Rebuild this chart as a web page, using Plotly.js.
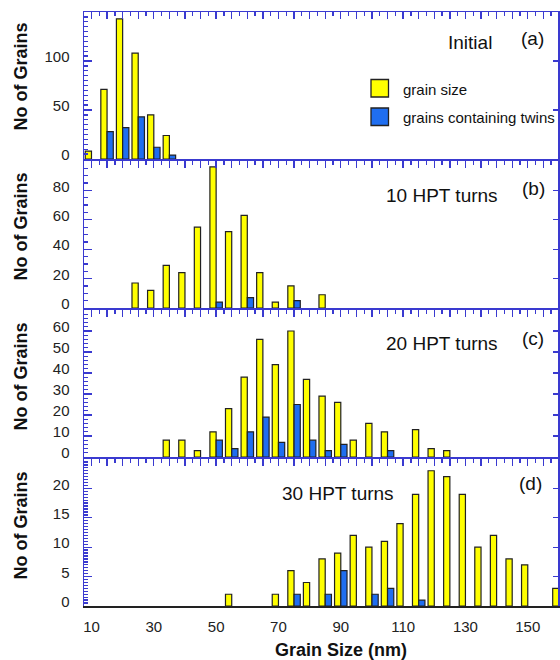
<!DOCTYPE html>
<html>
<head>
<meta charset="utf-8">
<script src="https://cdn.plot.ly/plotly-3.0.1.min.js"></script>
<style>
  html, body { margin: 0; padding: 0; background: #fff; }
  #chart { width: 560px; height: 660px; }
</style>
</head>
<body>
<div id="chart"></div>
<script>
// Grain-size histograms (5 nm bins) for the initial state and after 10/20/30 HPT turns.
const binsA = [10, 15, 20, 25, 30, 35];
const sizeA = [8, 71, 143, 108, 45, 24];
const twinA = [0, 28, 32, 43, 12, 4];

const binsB = [25, 30, 35, 40, 45, 50, 55, 60, 65, 70, 75, 80, 85];
const sizeB = [17, 12, 29, 24, 55, 96, 52, 63, 24, 4, 15, 0, 9];
const twinB = [0, 0, 0, 0, 0, 4, 0, 7, 0, 0, 5, 0, 0];

const binsC = [35, 40, 45, 50, 55, 60, 65, 70, 75, 80, 85, 90, 95, 100, 105, 110, 115, 120, 125];
const sizeC = [8, 8, 3, 12, 23, 38, 56, 44, 60, 37, 29, 26, 8, 16, 12, 0, 13, 4, 3];
const twinC = [0, 0, 0, 8, 4, 12, 19, 7, 25, 8, 3, 6, 0, 0, 3, 0, 0, 0, 0];

const binsD = [55, 60, 65, 70, 75, 80, 85, 90, 95, 100, 105, 110, 115, 120, 125, 130, 135, 140, 145, 150, 155, 160];
const sizeD = [2, 0, 0, 2, 6, 4, 8, 9, 12, 10, 11, 14, 19, 23, 22, 19, 10, 12, 8, 7, 0, 3];
const twinD = [0, 0, 0, 0, 2, 0, 2, 6, 0, 2, 3, 0, 1, 0, 0, 0, 0, 0, 0, 0, 0, 0];

const panelLabels = ['Initial', '10 HPT turns', '20 HPT turns', '30 HPT turns'];
const panelTags = ['(a)', '(b)', '(c)', '(d)'];
const seriesNames = ['grain size', 'grains containing twins'];
const xTickVals = [10, 30, 50, 70, 90, 110, 130, 150];
const yTickVals = [
  [0, 50, 100],
  [0, 20, 40, 60, 80],
  [0, 10, 20, 30, 40, 50, 60],
  [0, 5, 10, 15, 20]
];
const yTitle = 'No of Grains';
const xTitle = 'Grain Size (nm)';

// ---- styling ----
const FONT = 'Liberation Sans, Arial, Helvetica, sans-serif';
const AXIS_BLUE = '#3a3ad0';
const YELLOW = '#ffff00';
const BLUE = '#1f6ef0';
const EDGE = '#222222';

const W = 560, H = 660;
const M = { l: 84, r: 2, t: 12, b: 54 };
const PW = W - M.l - M.r, PH = H - M.t - M.b;
const fx = px => (px - M.l) / PW;          // pixel -> paper x
const fy = py => (H - M.b - py) / PH;      // pixel -> paper y

// vertical extent of each panel in pixels (top, bottom)
const panelPx = [[12, 159], [161, 308], [310, 457], [459, 606]];
const yRanges = [[0, 150], [0, 100], [0, 70], [0, 25]];
const yDtick = [50, 20, 10, 5];
const yMinor = [5, 5, 2, 0.5];
const xRange = [7.6, 159.7];

const bins = [binsA, binsB, binsC, binsD];
const sizes = [sizeA, sizeB, sizeC, sizeD];
const twins = [twinA, twinB, twinC, twinD];

// empty bins get no outline so nothing is drawn along the baseline
const edgeWidths = vals => vals.map(v => (v > 0 ? 1.2 : 0));

const traces = [];
const layout = {
  width: W, height: H,
  margin: M,
  paper_bgcolor: '#ffffff',
  plot_bgcolor: '#ffffff',
  showlegend: false,
  barmode: 'group',
  bargap: 0.2,
  bargroupgap: 0,
  font: { family: FONT, color: '#222' },
  annotations: [],
  shapes: []
};

for (let i = 0; i < 4; i++) {
  const n = i + 1;
  const xa = n === 1 ? 'x' : 'x' + n;
  const ya = n === 1 ? 'y' : 'y' + n;
  const yRight = 'y' + (n + 4);

  traces.push({
    type: 'bar', name: seriesNames[0], x: bins[i], y: sizes[i],
    xaxis: xa, yaxis: ya,
    marker: { color: YELLOW, line: { color: EDGE, width: edgeWidths(sizes[i]) } },
    hoverinfo: 'x+y'
  });
  traces.push({
    type: 'bar', name: seriesNames[1], x: bins[i], y: twins[i],
    xaxis: xa, yaxis: ya,
    marker: { color: BLUE, line: { color: EDGE, width: edgeWidths(twins[i]) } },
    hoverinfo: 'x+y'
  });

  const [top, bot] = panelPx[i];
  const dom = [fy(bot), fy(top)];

  // top axis carries the fine ticks; the bottom edge is just a line
  layout['xaxis' + (n === 1 ? '' : n)] = {
    domain: [0, 1], anchor: ya, range: xRange, side: 'top',
    showticklabels: false, ticks: 'inside', tick0: 10, dtick: 5,
    ticklen: 7, tickwidth: 1.3, tickcolor: AXIS_BLUE,
    minor: { ticks: 'inside', dtick: 2.5, ticklen: 4, tickwidth: 1.3, tickcolor: AXIS_BLUE, showgrid: false },
    showline: true, linecolor: AXIS_BLUE, linewidth: 1.5, mirror: n !== 4,
    showgrid: false, zeroline: false, fixedrange: true
  };

  layout['yaxis' + (n === 1 ? '' : n)] = {
    domain: dom, anchor: xa, range: yRanges[i],
    tickmode: 'array', tickvals: yTickVals[i],
    ticks: 'inside', ticklen: 8, tickwidth: 1.3, tickcolor: AXIS_BLUE,
    minor: { ticks: 'inside', tick0: 0, dtick: yMinor[i], ticklen: 4, tickwidth: 1.3, tickcolor: AXIS_BLUE, showgrid: false },
    tickfont: { family: FONT, size: 15, color: '#222' },
    ticklabelstandoff: 10, ticklabelshift: -4,
    showline: true, linecolor: AXIS_BLUE, linewidth: 1.5, mirror: true,
    showgrid: false, zeroline: false, fixedrange: true
  };

  // right-hand edge: major ticks only
  layout['yaxis' + (n + 4)] = {
    overlaying: ya, anchor: xa, side: 'right', range: yRanges[i],
    tick0: 0, dtick: yDtick[i], ticks: 'inside', ticklen: 5, tickwidth: 1.3, tickcolor: AXIS_BLUE,
    showticklabels: false, showline: false, showgrid: false, zeroline: false, fixedrange: true
  };
  traces.push({ type: 'scatter', x: [], y: [], xaxis: xa, yaxis: yRight, hoverinfo: 'skip', showlegend: false });
}

// grain-size scale along the bottom of the last panel
layout.xaxis9 = {
  overlaying: 'x4', anchor: 'y4', side: 'bottom', range: xRange,
  tickmode: 'array', tickvals: xTickVals, ticks: '', showline: true, linecolor: '#222', linewidth: 1.5,
  tickfont: { family: FONT, size: 15, color: '#222' }, ticklabelstandoff: 6,
  showgrid: false, zeroline: false, fixedrange: true
};
traces.push({ type: 'scatter', x: [], y: [], xaxis: 'x9', yaxis: 'y4', hoverinfo: 'skip', showlegend: false });

// panel captions
const labelPos = [[470, 42], [442, 195], [442, 343], [338, 493]];
const tagPos = [[532, 38], [533, 188], [533, 338], [530, 483]];
const yTitlePos = [77, 227, 377, 526];
for (let i = 0; i < 4; i++) {
  layout.annotations.push({
    xref: 'paper', yref: 'paper', x: fx(labelPos[i][0]), y: fy(labelPos[i][1]),
    xanchor: 'center', yanchor: 'middle', showarrow: false,
    text: panelLabels[i], font: { family: FONT, size: 19, color: '#111' }
  });
  layout.annotations.push({
    xref: 'paper', yref: 'paper', x: fx(tagPos[i][0]), y: fy(tagPos[i][1]),
    xanchor: 'center', yanchor: 'middle', showarrow: false,
    text: panelTags[i], font: { family: FONT, size: 19, color: '#111' }
  });
  layout.annotations.push({
    xref: 'paper', yref: 'paper', x: fx(20.5), y: fy(yTitlePos[i]),
    xanchor: 'center', yanchor: 'middle', showarrow: false, textangle: -90,
    text: '<b>' + yTitle + '</b>', font: { family: FONT, size: 18, color: '#111' }
  });
}
layout.annotations.push({
  xref: 'paper', yref: 'paper', x: fx(341), y: fy(650),
  xanchor: 'center', yanchor: 'middle', showarrow: false,
  text: '<b>' + xTitle + '</b>', font: { family: FONT, size: 18, color: '#111' }
});

// legend key
const keyColors = [YELLOW, BLUE];
const keyTop = [79.5, 108];
keyColors.forEach((c, k) => {
  layout.shapes.push({
    type: 'rect', xref: 'paper', yref: 'paper',
    x0: fx(371), x1: fx(388.5), y0: fy(keyTop[k] + 17.5), y1: fy(keyTop[k]),
    fillcolor: c, line: { color: EDGE, width: 1.3 }
  });
  layout.annotations.push({
    xref: 'paper', yref: 'paper', x: fx(401), y: fy(keyTop[k] + 9.5),
    xanchor: 'left', yanchor: 'middle', showarrow: false,
    text: seriesNames[k], font: { family: FONT, size: 15, color: '#111' }
  });
});

Plotly.newPlot('chart', traces, layout, { staticPlot: true, displayModeBar: false });
</script>
</body>
</html>
